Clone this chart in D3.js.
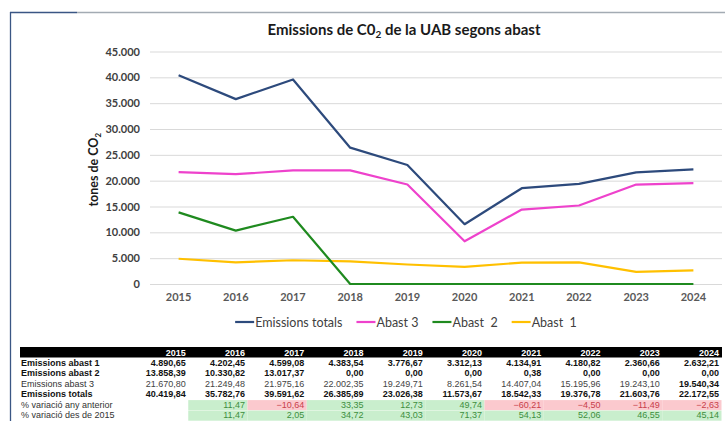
<!DOCTYPE html>
<html>
<head>
<meta charset="utf-8">
<script src="https://cdn.jsdelivr.net/npm/d3@7"></script>
<style>
  html, body { margin: 0; padding: 0; background: #fff; }
  svg { display: block; }
</style>
</head>
<body>
<svg id="chart" width="725" height="421"></svg>
<script>
// ---------- DATA ----------
const years = ["2015","2016","2017","2018","2019","2020","2021","2022","2023","2024"];
const abast1 = [4890.65, 4202.45, 4599.08, 4383.54, 3776.67, 3312.13, 4134.91, 4180.82, 2360.66, 2632.21];
const abast2 = [13858.39, 10330.82, 13017.37, 0, 0, 0, 0.38, 0, 0, 0];
const abast3 = [21670.80, 21249.48, 21975.16, 22002.35, 19249.71, 8261.54, 14407.04, 15195.96, 19243.10, 19540.34];
const totals = [40419.84, 35782.76, 39591.62, 26385.89, 23026.38, 11573.67, 18542.33, 19376.78, 21603.76, 22172.55];
const varAnyAnterior = [null, 11.47, -10.64, 33.35, 12.73, 49.74, -60.21, -4.50, -11.49, -2.63];
const varDes2015 = [null, 11.47, 2.05, 34.72, 43.03, 71.37, 54.13, 52.06, 46.55, 45.14];
const yTicks = [0, 5000, 10000, 15000, 20000, 25000, 30000, 35000, 40000, 45000];

const seriesNames = ["Emissions totals", "Abast 3", "Abast  2", "Abast  1"];
const seriesColors = ["#2d4a7c", "#ee42cc", "#1f8a1f", "#ffc000"];
const seriesValues = [totals, abast3, abast2, abast1];

// ---------- SETUP ----------
const loc = d3.formatLocale({decimal: ",", thousands: ".", grouping: [3], currency: ["", ""]});
const fmtTick = loc.format(",.0f");
const fmt2 = loc.format(",.2f");

const svg = d3.select("#chart");
const chartFont = "Lato, 'Open Sans', sans-serif";
const tableFont = "'Liberation Sans', Arial, sans-serif";

// frame
svg.append("line").attr("x1", 10.5).attr("x2", 10.5).attr("y1", 12).attr("y2", 421)
  .attr("stroke", "#3a5684").attr("stroke-width", 1.3);
svg.append("line").attr("x1", 10).attr("x2", 77).attr("y1", 12.5).attr("y2", 12.5)
  .attr("stroke", "#3a5684").attr("stroke-width", 1.3);
svg.append("line").attr("x1", 77).attr("x2", 725).attr("y1", 12.5).attr("y2", 12.5)
  .attr("stroke", "#a3abb3").attr("stroke-width", 1.3);

const plot = {left: 150, right: 722, top: 51.5, bottom: 284};

const x = d3.scaleBand().domain(years).range([plot.left, plot.right]);
const y = d3.scaleLinear().domain([0, 45000]).range([plot.bottom, plot.top]);

// title
const title = svg.append("text")
  .attr("x", 404).attr("y", 35)
  .attr("text-anchor", "middle")
  .attr("font-family", chartFont).attr("font-weight", "bold")
  .attr("font-size", 15).attr("fill", "#1a1a1a");
title.append("tspan").text("Emissions de C0");
title.append("tspan").attr("font-size", 10).attr("dy", 3).text("2");
title.append("tspan").attr("dy", -3).text(" de la UAB segons abast");

// gridlines + y axis
const yAxis = d3.axisLeft(y).tickValues(yTicks).tickFormat(fmtTick)
  .tickSize(-(plot.right - plot.left)).tickPadding(10);
const gy = svg.append("g").attr("transform", `translate(${plot.left},0)`).call(yAxis);
gy.select(".domain").remove();
gy.selectAll(".tick line").attr("stroke", "#d9d9d9").attr("stroke-width", 1);
gy.selectAll(".tick text").attr("font-family", chartFont).attr("font-weight", "bold")
  .attr("font-size", 11).attr("fill", "#404040");

// x axis
const xAxis = d3.axisBottom(x).tickSize(0).tickPadding(9);
const gx = svg.append("g").attr("transform", `translate(0,${plot.bottom})`).call(xAxis);
gx.select(".domain").remove();
gx.selectAll(".tick text").attr("font-family", chartFont).attr("font-weight", "bold")
  .attr("font-size", 11).attr("fill", "#595959");

// y title
const yt = svg.append("text")
  .attr("transform", `translate(98,${(plot.top + plot.bottom) / 2 + 2}) rotate(-90)`)
  .attr("text-anchor", "middle")
  .attr("font-family", chartFont).attr("font-weight", "bold")
  .attr("font-size", 12.5).attr("fill", "#1a1a1a");
yt.append("tspan").text("tones de CO");
yt.append("tspan").attr("font-size", 8).attr("dy", 2.5).text("2");

// lines
const line = d3.line().x((d, i) => x(years[i]) + x.bandwidth() / 2).y(d => y(d));
// draw order: Abast 1, Abast 2, Abast 3, totals (totals on top)
[3, 2, 1, 0].forEach(k => {
  svg.append("path").datum(seriesValues[k])
    .attr("d", line).attr("fill", "none")
    .attr("stroke", seriesColors[k]).attr("stroke-width", 2.2)
    .attr("stroke-linejoin", "round").attr("stroke-linecap", "butt");
});

// legend
const legend = svg.append("g");
let lx = 0;
seriesNames.forEach((name, k) => {
  const g = legend.append("g").attr("transform", `translate(${lx},0)`);
  g.append("line").attr("x1", 0).attr("x2", 19).attr("y1", 0).attr("y2", 0)
    .attr("stroke", seriesColors[k]).attr("stroke-width", 2.2);
  const t = g.append("text").attr("x", 20).attr("y", 4.5)
    .attr("font-family", chartFont).attr("font-size", 12.5).attr("fill", "#404040")
    .attr("xml:space", "preserve").style("white-space", "pre").text(name);
  const w = t.node().getComputedTextLength();
  lx += 20 + w + 14;
});
const legendW = lx - 14;
legend.attr("transform", `translate(${406 - legendW / 2},322)`);

// ---------- TABLE ----------
const tx = d3.scaleBand().domain(years).range([129, 721.5]);   // cell bands, text right-aligned
const tbl = svg.append("g");
tbl.append("rect").attr("x", 20).attr("y", 347).attr("width", 702).attr("height", 10.5).attr("fill", "#000");
years.forEach(yr => {
  tbl.append("text").attr("x", tx(yr) + tx.bandwidth() - 2.5).attr("y", 355.5)
    .attr("text-anchor", "end").attr("font-family", tableFont).attr("font-weight", "bold")
    .attr("font-size", 9).attr("fill", "#fff").text(yr);
});

const rows = [
  {label: "Emissions abast 1", vals: abast1, bold: true, fmt: fmt2},
  {label: "Emissions abast 2", vals: abast2, bold: true, fmt: fmt2},
  {label: "Emissions abast 3", vals: abast3, bold: false, fmt: fmt2, boldLast: true},
  {label: "Emissions totals", vals: totals, bold: true, fmt: fmt2},
  {label: "% variació any anterior", vals: varAnyAnterior, bold: false, fmt: fmt2, colored: true},
  {label: "% variació des de 2015", vals: varDes2015, bold: false, fmt: fmt2, colored: true}
];
const rowTop = 358, rowH = 10.45;
rows.forEach((r, ri) => {
  const yTop = rowTop + ri * rowH;
  const base = yTop + 8;
  if (r.colored) {
    r.vals.forEach((v, i) => {
      if (v === null) return;
      tbl.append("rect").attr("x", tx(years[i])).attr("y", yTop + 0.3)
        .attr("width", tx.bandwidth()).attr("height", rowH - 0.3)
        .attr("fill", v < 0 ? "#fbc9ce" : "#c9eecd");
    });
  }
  tbl.append("text").attr("x", 21).attr("y", base)
    .attr("font-family", tableFont).attr("font-size", 9)
    .attr("font-weight", r.bold ? "bold" : "normal")
    .attr("fill", r.bold ? "#111" : "#333").text(r.label);
  r.vals.forEach((v, i) => {
    if (v === null) return;
    const isBold = r.bold || (r.boldLast && i === r.vals.length - 1);
    let col = isBold ? "#111" : "#444";
    if (r.colored) col = v < 0 ? "#c8404a" : "#3e8e3e";
    tbl.append("text").attr("x", tx(years[i]) + tx.bandwidth() - 2.5).attr("y", base)
      .attr("text-anchor", "end").attr("font-family", tableFont).attr("font-size", 9)
      .attr("font-weight", isBold ? "bold" : "normal").attr("fill", col)
      .text(r.fmt(v));
  });
});
</script>
</body>
</html>
